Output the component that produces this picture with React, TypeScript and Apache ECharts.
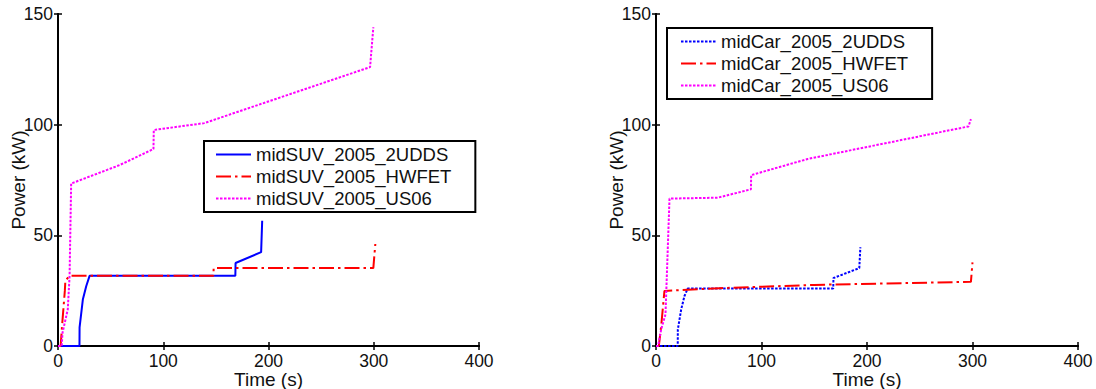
import React, { useEffect, useRef } from "react";
import * as echarts from "echarts";

// ---- Data ----
const xTicks = [0, 100, 200, 300, 400];
const yTicks = [0, 50, 100, 150];

// Left panel: midSUV
const suvUddsTime = [0, 20.4, 20.5, 23.6, 26.8, 30, 168.5, 168.7, 193, 194];
const suvUddsPower = [0, 0, 8.4, 21, 27, 31.7, 31.7, 37.5, 42.4, 56.6];
const suvHwfetTime = [0, 2.5, 4, 6.5, 7, 11, 147.7, 147.9, 299.6, 301.5];
const suvHwfetPower = [0, 0, 10, 25, 29.5, 31.7, 31.7, 35.2, 35.2, 46.1];
const suvUs06Time = [0, 3.5, 4.3, 9.3, 11, 12.5, 58.4, 90.7, 91, 139, 296.5, 299.6];
const suvUs06Power = [0, 0, 6, 16.6, 31.7, 73.4, 81.7, 89, 97.6, 100.7, 126, 144];

// Right panel: midCar
const carUddsTime = [0, 20.6, 20.7, 23.9, 27, 30.1, 168, 168.2, 192.7, 193.7];
const carUddsPower = [0, 0, 7.5, 16.6, 22.6, 26, 26, 30.7, 35.2, 44.6];
const carHwfetTime = [0, 2.7, 4.9, 8, 60, 150, 298.5, 300];
const carHwfetPower = [0, 0, 9, 24.9, 26.1, 27.6, 29, 37.8];
const carUs06Time = [0, 2, 4.9, 9, 12.8, 58.5, 90, 90.2, 143.8, 296.2, 298.5];
const carUs06Power = [0, 0, 7.5, 14.3, 66.6, 67, 70.8, 77.2, 84.5, 99.2, 102.5];

const suvNames = ["midSUV_2005_2UDDS", "midSUV_2005_HWFET", "midSUV_2005_US06"];
const carNames = ["midCar_2005_2UDDS", "midCar_2005_HWFET", "midCar_2005_US06"];

const pairs = (xs: number[], ys: number[]) => xs.map((x, i) => [x, ys[i]]);

const FONT = "'Liberation Sans', Arial, Helvetica, sans-serif";
const BLUE = "#0000ff";
const RED = "#ff0000";
const MAGENTA = "#ff00ff";
const DOT = [2.5, 1.5];
const DASHDOT = [15, 4, 2.5, 4];

export default function App() {
  const ref = useRef<HTMLDivElement>(null);
  useEffect(() => {
    if (!ref.current) return;
    const chart = echarts.init(ref.current, undefined, { renderer: "svg" });

    const grids = [
      { left: 58, top: 14, width: 421, height: 332, containLabel: false, outerBoundsMode: "none" },
      { left: 656, top: 14, width: 422, height: 332, containLabel: false, outerBoundsMode: "none" },
    ];

    const axisLine = { show: true, lineStyle: { color: "#000", width: 2 } };
    const axisTick = { show: true, inside: true, length: 4, lineStyle: { color: "#000", width: 1.5 } };

    const xAxes: any[] = [];
    const yAxes: any[] = [];
    [0, 1].forEach((g) => {
      xAxes.push({
        type: "value",
        gridIndex: g,
        min: xTicks[0],
        max: xTicks[xTicks.length - 1],
        interval: xTicks[1] - xTicks[0],
        position: "bottom",
        name: "Time (s)",
        nameLocation: "middle",
        nameGap: 24,
        nameMoveOverlap: false,
        nameTextStyle: { fontFamily: FONT, fontSize: 19, color: "#111" },
        axisLine,
        axisTick,
        splitLine: { show: false },
        axisLabel: { fontFamily: FONT, fontSize: 17.5, color: "#111", margin: 6, hideOverlap: false },
      });
      xAxes.push({
        type: "value",
        gridIndex: g,
        min: xTicks[0],
        max: xTicks[xTicks.length - 1],
        interval: xTicks[1] - xTicks[0],
        position: "top",
        axisLine,
        axisTick,
        splitLine: { show: false },
        axisLabel: { show: false },
      });
      yAxes.push({
        type: "value",
        gridIndex: g,
        min: yTicks[0],
        max: yTicks[yTicks.length - 1],
        interval: yTicks[1] - yTicks[0],
        position: "left",
        name: "Power (kW)",
        nameLocation: "middle",
        nameRotate: 90,
        nameGap: 30,
        nameMoveOverlap: false,
        nameTextStyle: { fontFamily: FONT, fontSize: 19, color: "#111" },
        axisLine,
        axisTick,
        splitLine: { show: false },
        axisLabel: { fontFamily: FONT, fontSize: 17.5, color: "#111", margin: 5 },
      });
      yAxes.push({
        type: "value",
        gridIndex: g,
        min: yTicks[0],
        max: yTicks[yTicks.length - 1],
        interval: yTicks[1] - yTicks[0],
        position: "right",
        axisLine,
        axisTick,
        splitLine: { show: false },
        axisLabel: { show: false },
      });
    });

    const mk = (name: string, g: number, data: number[][], color: string, type: any) => ({
      name,
      type: "line",
      xAxisIndex: g * 2,
      yAxisIndex: g * 2,
      data,
      symbol: "none",
      lineStyle: { color, width: 2, type },
      itemStyle: { color },
      z: 3,
    });

    const series = [
      mk(suvNames[0], 0, pairs(suvUddsTime, suvUddsPower), BLUE, "solid"),
      mk(suvNames[1], 0, pairs(suvHwfetTime, suvHwfetPower), RED, DASHDOT),
      mk(suvNames[2], 0, pairs(suvUs06Time, suvUs06Power), MAGENTA, DOT),
      mk(carNames[0], 1, pairs(carUddsTime, carUddsPower), BLUE, DOT),
      mk(carNames[1], 1, pairs(carHwfetTime, carHwfetPower), RED, DASHDOT),
      mk(carNames[2], 1, pairs(carUs06Time, carUs06Power), MAGENTA, DOT),
    ];

    const legendBase = {
      orient: "vertical",
      itemWidth: 35,
      itemHeight: 14,
      itemGap: 3,
      itemTextGap: 12,
      backgroundColor: "#fff",
      borderColor: "#000",
      borderWidth: 2,
      borderRadius: 0,
      selectedMode: false,
      textStyle: { fontFamily: FONT, fontSize: 18.5, color: "#111" },
      lineStyle: { width: 2 },
      itemStyle: { opacity: 0 },
    };

    chart.setOption({
      animation: false,
      backgroundColor: "#fff",
      grid: grids,
      xAxis: xAxes,
      yAxis: yAxes,
      legend: [
        { ...legendBase, data: suvNames, left: 204, top: 141, padding: [4, 24, 4, 11] },
        { ...legendBase, data: carNames, left: 667, top: 28, padding: [4, 24, 4, 13] },
      ],
      series,
    });

    return () => chart.dispose();
  }, []);

  return (
    <div
      ref={ref}
      style={{ position: "fixed", left: 0, top: 0, width: 1096, height: 389, background: "#fff" }}
    />
  );
}
